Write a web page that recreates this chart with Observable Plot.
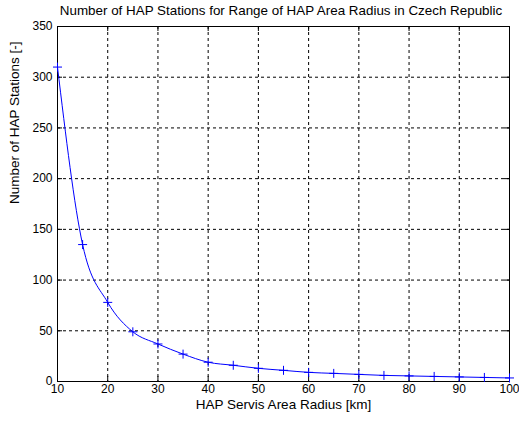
<!DOCTYPE html>
<html><head><meta charset="utf-8">
<script src="https://cdn.jsdelivr.net/npm/d3@7"></script>
<script src="https://cdn.jsdelivr.net/npm/@observablehq/plot@0.6"></script>
<style>
body{margin:0;background:#fff;font-family:"Liberation Sans",Arial,sans-serif;}
#wrap{position:relative;width:519px;height:421px;}
#title{position:absolute;left:281px;top:3px;transform:translateX(-50%);white-space:nowrap;font-size:13.4px;line-height:15px;color:#000;}
#chart{position:absolute;left:0;top:22px;}
#chart svg{overflow:visible;}
</style></head><body>
<div id="wrap">
<div id="title">Number of HAP Stations for Range of HAP Area Radius in Czech Republic</div>
<div id="chart"></div>
</div>
<script>
const radius = [10,15,20,25,30,35,40,45,50,55,60,65,70,75,80,85,90,95,100];
const stations = [310,135,78,49,37,27,19,16,13,11,9,8,7,6,5.5,5,4.5,4,3.5];
const xTicks = [10,20,30,40,50,60,70,80,90,100];
const yTicks = [0,50,100,150,200,250,300,350];
const xLabel = "HAP Servis Area Radius [km]";
const yLabel = "Number of HAP Stations [-]";

const data = radius.map((r,i)=>({r, n: stations[i]}));
const plusSymbol = {draw(context, size){const s = Math.sqrt(size/Math.PI); context.moveTo(-s,0); context.lineTo(s,0); context.moveTo(0,-s); context.lineTo(0,s);}};

const W = 519, H = 399, mL = 57, mR = 10, mT = 4, mB = 40;
const ph = H - mT - mB, pw = W - mL - mR;

const chart = Plot.plot({
  width: W, height: H,
  marginLeft: mL, marginRight: mR, marginTop: mT, marginBottom: mB,
  style: {fontFamily: "'Liberation Sans', Arial, sans-serif", fontSize: "12px", background: "#fff", color: "#000", overflow: "visible"},
  x: {domain: [10,100], ticks: xTicks},
  y: {domain: [0,350], ticks: yTicks},
  marks: [
    Plot.ruleX(xTicks, {stroke: "#000", strokeDasharray: "3,3"}),
    Plot.ruleY(yTicks, {stroke: "#000", strokeDasharray: "3,3"}),
    Plot.ruleX(xTicks, {stroke: "#000", insetTop: ph - 5}),
    Plot.ruleX(xTicks, {stroke: "#000", insetBottom: ph - 5}),
    Plot.ruleY(yTicks, {stroke: "#000", insetRight: pw - 5}),
    Plot.ruleY(yTicks, {stroke: "#000", insetLeft: pw - 5}),
    Plot.frame({stroke: "#000"}),
    Plot.axisX(xTicks, {tickSize: 0, tickPadding: 3, label: null, fontSize: 12}),
    Plot.axisY(yTicks, {tickSize: 0, tickPadding: 5, label: null, fontSize: 12}),
    Plot.text([xLabel], {frameAnchor: "bottom", dy: 27, fontSize: 13.5}),
    Plot.text([yLabel], {frameAnchor: "left", dx: -43, rotate: -90, fontSize: 13.5}),
    Plot.line(data, {x: "r", y: "n", curve: "monotone-x", stroke: "#0000ff", strokeWidth: 1}),
    Plot.dot(data, {x: "r", y: "n", symbol: plusSymbol, r: 4.5, stroke: "#0000ff", fill: "none", strokeWidth: 1})
  ]
});
document.getElementById("chart").appendChild(chart);
</script>
</body></html>
